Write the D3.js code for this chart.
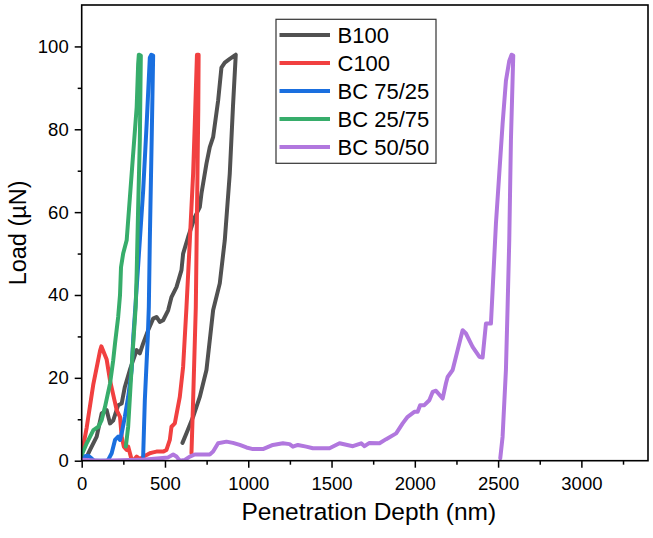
<!DOCTYPE html>
<html>
<head>
<meta charset="utf-8">
<script src="https://cdn.jsdelivr.net/npm/d3@7"></script>
<style>
  body { margin: 0; background: #fff; }
  text { font-family: "Liberation Sans", Arial, Helvetica, sans-serif; fill: #000; }
</style>
</head>
<body>
<div id="chart"></div>
<script>
// series names as in the legend
const seriesNames = ["B100", "C100", "BC 75/25", "BC 25/75", "BC 50/50"];
const seriesColors = ["#515151", "#F14040", "#1A6FDF", "#37AD6B", "#B177DE"];

// penetration depth (nm) / load (uN)
const b100Depth = [25, 50, 90, 120, 150, 170, 189, 219, 240, 259, 289, 309, 330, 349, 369, 399, 429, 449, 469, 489, 519, 539, 569, 599, 609, 639, 679, 709, 719, 749, 769, 789, 819, 839, 859, 889, 919, 925, 908, 889, 859, 829, 789, 749, 709, 669, 629, 605];
const b100Load = [0.5, 2.6, 5.8, 11.4, 12.2, 9, 9.7, 13.4, 13.8, 17.8, 21.9, 24.3, 26.7, 25.9, 28.3, 31.5, 34.3, 34.7, 33.5, 33.9, 36.3, 39.5, 41.9, 46, 50, 54, 58.8, 61.2, 64.5, 71.7, 75.7, 78.1, 86.9, 94.9, 96.1, 97, 97.8, 98, 85.3, 69.3, 53.2, 42.8, 36.3, 21.9, 15.4, 10.6, 6.6, 4.3];

const c100Depth = [0, 30, 70, 110, 118, 150, 170, 210, 230, 240, 253, 270, 279, 300, 309, 330, 349, 390, 409, 429, 449, 489, 509, 529, 539, 559, 589, 609, 629, 649, 669, 679, 692, 702, 700, 685, 669, 659];
const c100Load = [1.5, 8, 18.5, 26.5, 27.6, 24.4, 19.4, 12.2, 10.6, 5.8, 3.4, 2.6, 3.4, 0.2, 0, 1, 0.4, 1.4, 1.8, 2, 2.2, 2.2, 2.6, 5, 8.2, 9, 15.4, 22.7, 37, 53, 69.3, 81.3, 98, 98, 85, 37, 14.6, 1.8];

const bc7525Depth = [0, 10, 40, 60, 75, 150, 159, 180, 200, 219, 230, 240, 259, 279, 300, 310, 325, 349, 369, 390, 409, 418, 429, 420, 409, 403, 397, 379, 369];
const bc7525Load = [0.5, 1, 1.2, 0.5, 0, 0, 0.2, 1.8, 5, 5.8, 5, 6.6, 10.6, 15.4, 21.9, 30, 38.7, 53.2, 65.2, 81.3, 97.3, 98, 97.8, 77.3, 53.2, 37.1, 30, 14.6, 1];

const bc2575Depth = [0, 30, 70, 100, 120, 140, 170, 189, 200, 219, 224, 230, 236, 249, 270, 300, 330, 339, 343, 355, 349, 339, 330, 324, 300, 279, 265];
const bc2575Load = [1.4, 4.2, 7.4, 8.2, 9.8, 13, 18.6, 24.2, 28.3, 34.7, 37.1, 40, 46.7, 50, 53.2, 69.3, 85.3, 95.8, 98, 97.8, 77.3, 61.2, 45.2, 37.1, 22.7, 8.2, 3.4];

const bc5050Depth = [0, 110, 349, 469, 519, 549, 569, 589, 619, 649, 679, 769, 789, 819, 869, 908, 949, 989, 1028, 1088, 1148, 1208, 1248, 1268, 1298, 1348, 1388, 1488, 1548, 1628, 1678, 1698, 1728, 1788, 1828, 1888, 1927, 1957, 1997, 2017, 2032, 2057, 2087, 2107, 2127, 2167, 2187, 2197, 2227, 2247, 2287, 2307, 2347, 2387, 2407, 2427, 2457, 2467, 2487, 2507, 2527, 2547, 2567, 2581, 2591, 2577, 2567, 2557, 2547, 2527, 2513];
const bc5050Load = [0.2, 0, 0.2, 0.6, 0.8, 1.5, 1, 0, 0.2, 1, 1.5, 1.5, 2.2, 4.2, 4.6, 4.3, 3.8, 3.2, 2.8, 2.8, 3.8, 4.2, 4, 3.4, 3.8, 3.4, 3, 3, 4.2, 3.5, 4.2, 3.5, 4.3, 4.2, 5.2, 6.6, 9, 10.6, 11.8, 11.8, 13.4, 13.4, 14.6, 16.6, 16.9, 15, 18.7, 20.2, 21.9, 25.1, 31.5, 30.7, 27.5, 25.1, 24.9, 33.1, 33.1, 41.1, 57.2, 69.3, 81.3, 91.7, 96.5, 98, 97.8, 77.3, 53.2, 37.1, 21.9, 5.8, 0.6];

// axis ticks
const xTicks = [0, 500, 1000, 1500, 2000, 2500, 3000];
const xMinorTicks = [250, 750, 1250, 1750, 2250, 2750, 3250];
const yTicks = [0, 20, 40, 60, 80, 100];
const yMinorTicks = [10, 30, 50, 70, 90];

const allDepth = [b100Depth, c100Depth, bc7525Depth, bc2575Depth, bc5050Depth];
const allLoad = [b100Load, c100Load, bc7525Load, bc2575Load, bc5050Load];

const series = seriesNames.map((name, i) => ({
  name: name,
  color: seriesColors[i],
  points: allDepth[i].map((d, j) => ({ depth: d, load: allLoad[i][j] })),
}));

const W = 653, H = 538;
const margin = { top: 5, right: 5, bottom: 77.3, left: 81.7 };
const width = W - margin.left - margin.right;
const height = H - margin.top - margin.bottom;

const svg = d3
  .select("#chart")
  .append("svg")
  .attr("width", W)
  .attr("height", H);

const g = svg
  .append("g")
  .attr("transform", "translate(" + margin.left + "," + margin.top + ")");

const xScale = d3.scaleLinear().domain([0, 3400]).range([0, width]);
const yScale = d3.scaleLinear().domain([0, 110]).range([height, 0]);

const line = d3
  .line()
  .x((d) => xScale(d.depth))
  .y((d) => yScale(d.load));

// curves
g.append("defs")
  .append("clipPath")
  .attr("id", "clip")
  .append("rect")
  .attr("width", width)
  .attr("height", height);

g.append("g")
  .attr("clip-path", "url(#clip)")
  .selectAll("path")
  .data(series)
  .enter()
  .append("path")
  .attr("d", (d) => line(d.points))
  .attr("fill", "none")
  .attr("stroke", (d) => d.color)
  .attr("stroke-width", 4)
  .attr("stroke-linejoin", "round")
  .attr("stroke-linecap", "round");

// axes
const xAxisG = g
  .append("g")
  .attr("transform", "translate(0," + height + ")")
  .call(
    d3.axisBottom(xScale).tickValues(xTicks).tickFormat(d3.format("d"))
      .tickSize(7).tickSizeOuter(0).tickPadding(9.5)
  );

g.append("g")
  .attr("transform", "translate(0," + height + ")")
  .call(d3.axisBottom(xScale).tickValues(xMinorTicks).tickSize(4).tickSizeOuter(0).tickFormat(""));

const yAxisG = g
  .append("g")
  .call(d3.axisLeft(yScale).tickValues(yTicks).tickSize(7).tickSizeOuter(0).tickPadding(6));

g.append("g")
  .call(d3.axisLeft(yScale).tickValues(yMinorTicks).tickSize(4).tickSizeOuter(0).tickFormat(""));

g.selectAll(".domain").remove();
g.selectAll(".tick line").attr("stroke", "#000").attr("stroke-width", 1.5);
g.selectAll(".tick text")
  .style("font-size", "18.5px")
  .style("font-family", '"Liberation Sans", Arial, sans-serif');

// frame
g.append("rect")
  .attr("width", width)
  .attr("height", height)
  .attr("fill", "none")
  .attr("stroke", "#000")
  .attr("stroke-width", 1.6);

// axis titles
svg
  .append("text")
  .attr("x", margin.left + width / 2 + 4)
  .attr("y", 520)
  .attr("text-anchor", "middle")
  .style("font-size", "24.5px")
  .text("Penetration Depth (nm)");

svg
  .append("text")
  .attr("transform", "translate(26," + (margin.top + height / 2) + ") rotate(-90)")
  .attr("text-anchor", "middle")
  .style("font-size", "23.5px")
  .text("Load (\u00B5N)");

// legend
const legend = svg.append("g").attr("transform", "translate(276,19.3)");

legend
  .append("rect")
  .attr("width", 160)
  .attr("height", 144)
  .attr("fill", "#fff")
  .attr("stroke", "#333")
  .attr("stroke-width", 1.2);

const items = legend
  .selectAll(".item")
  .data(series)
  .enter()
  .append("g")
  .attr("class", "item")
  .attr("transform", (d, i) => "translate(0," + (15.8 + i * 28) + ")");

items
  .append("line")
  .attr("x1", 3.5)
  .attr("x2", 54)
  .attr("stroke", (d) => d.color)
  .attr("stroke-width", 4);

items
  .append("text")
  .attr("x", 61.5)
  .attr("y", 7.8)
  .style("font-size", "22px")
  .text((d) => d.name);
</script>
</body>
</html>
